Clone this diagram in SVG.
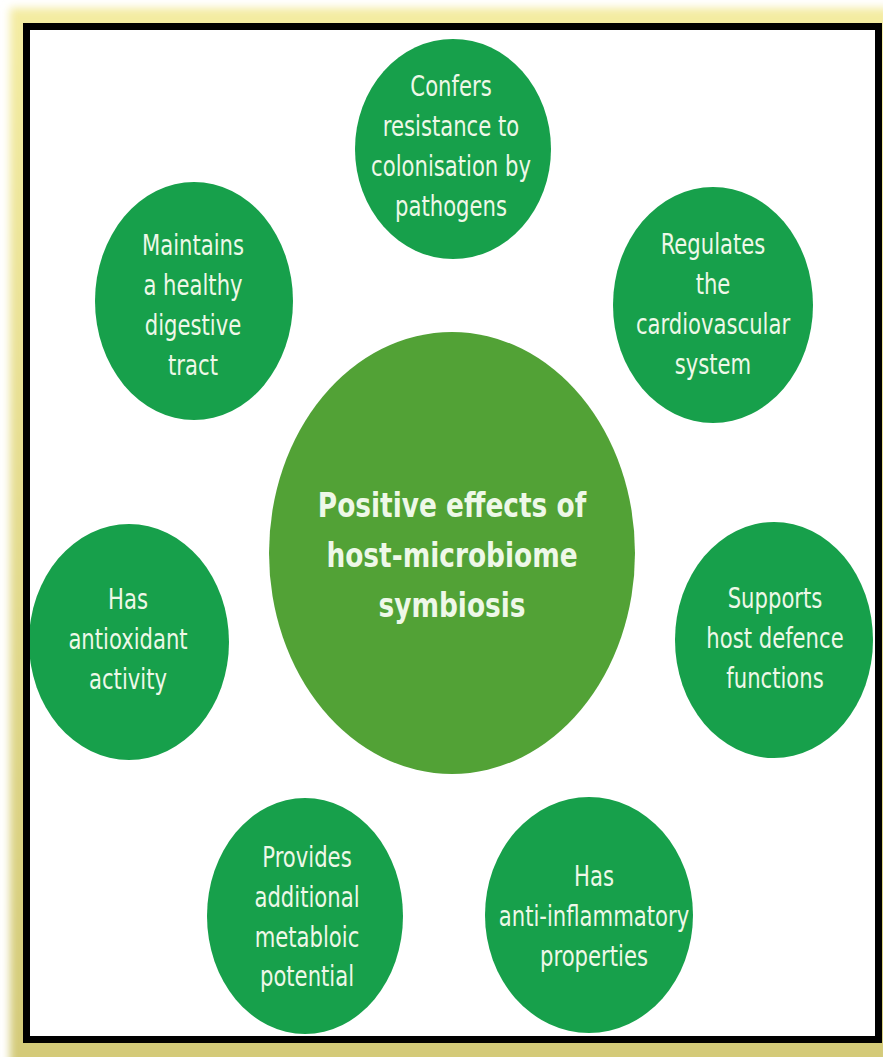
<svg xmlns="http://www.w3.org/2000/svg" width="883" height="1057" viewBox="0 0 883 1057">
<defs>
<filter id="glow" x="-5%" y="-5%" width="110%" height="110%"><feGaussianBlur stdDeviation="4"/></filter>
<linearGradient id="yel" x1="0" y1="0" x2="0" y2="1"><stop offset="0" stop-color="#f4eca2"/><stop offset="1" stop-color="#d3ca78"/></linearGradient>
<clipPath id="inner"><rect x="30" y="30" width="845" height="1006"/></clipPath>
</defs>
<style>
.o{fill:#17a04b}
.c{fill:#52a236}
text{font-family:"Liberation Sans Narrow","DejaVu Sans Condensed",sans-serif;fill:#eef8e8;text-anchor:middle}
.t{font-size:28px}
.h{font-size:33px;font-weight:bold}
</style>
<rect x="0" y="0" width="883" height="1057" fill="#ffffff"/>
<rect x="10" y="8" width="880" height="1060" fill="url(#yel)" filter="url(#glow)"/>
<rect x="26.5" y="26.5" width="852" height="1013" fill="#ffffff"/>
<g id="connectors"></g>
<g clip-path="url(#inner)">
<g id="center"><ellipse class="c" cx="452" cy="553" rx="183" ry="221"/>
<text class="h" transform="translate(452 517) scale(0.89 1)">Positive effects of</text>
<text class="h" transform="translate(452 567) scale(0.89 1)">host-microbiome</text>
<text class="h" transform="translate(452 617) scale(0.89 1)">symbiosis</text></g>
<g id="n1"><ellipse class="o" cx="453" cy="149" rx="98" ry="110"/>
<text class="t" transform="translate(451 96) scale(0.84 1)">Confers</text>
<text class="t" transform="translate(451 136) scale(0.84 1)">resistance to</text>
<text class="t" transform="translate(451 176) scale(0.84 1)">colonisation by</text>
<text class="t" transform="translate(451 216) scale(0.84 1)">pathogens</text></g>
<g id="n2"><ellipse class="o" cx="194" cy="301" rx="99" ry="119"/>
<text class="t" transform="translate(193 255) scale(0.84 1)">Maintains</text>
<text class="t" transform="translate(193 295) scale(0.84 1)">a healthy</text>
<text class="t" transform="translate(193 335) scale(0.84 1)">digestive</text>
<text class="t" transform="translate(193 375) scale(0.84 1)">tract</text></g>
<g id="n3"><ellipse class="o" cx="713" cy="305" rx="100" ry="118"/>
<text class="t" transform="translate(713 254) scale(0.84 1)">Regulates</text>
<text class="t" transform="translate(713 294) scale(0.84 1)">the</text>
<text class="t" transform="translate(713 334) scale(0.84 1)">cardiovascular</text>
<text class="t" transform="translate(713 374) scale(0.84 1)">system</text></g>
<g id="n4"><ellipse class="o" cx="129" cy="642" rx="100" ry="118"/>
<text class="t" transform="translate(128 609) scale(0.84 1)">Has</text>
<text class="t" transform="translate(128 649) scale(0.84 1)">antioxidant</text>
<text class="t" transform="translate(128 689) scale(0.84 1)">activity</text></g>
<g id="n5"><ellipse class="o" cx="774" cy="640" rx="99" ry="118"/>
<text class="t" transform="translate(775 608) scale(0.84 1)">Supports</text>
<text class="t" transform="translate(775 648) scale(0.84 1)">host defence</text>
<text class="t" transform="translate(775 688) scale(0.84 1)">functions</text></g>
<g id="n6"><ellipse class="o" cx="305" cy="916" rx="98" ry="118"/>
<text class="t" transform="translate(307 867) scale(0.84 1)">Provides</text>
<text class="t" transform="translate(307 907) scale(0.84 1)">additional</text>
<text class="t" transform="translate(307 947) scale(0.84 1)">metabloic</text>
<text class="t" transform="translate(307 986) scale(0.84 1)">potential</text></g>
<g id="n7"><ellipse class="o" cx="589" cy="915" rx="104" ry="118"/>
<text class="t" transform="translate(594 886) scale(0.84 1)">Has</text>
<text class="t" transform="translate(594 926) scale(0.84 1)">anti-inflammatory</text>
<text class="t" transform="translate(594 966) scale(0.84 1)">properties</text></g>
</g>
<rect x="26.5" y="26.5" width="852" height="1013" fill="none" stroke="#000000" stroke-width="7"/>
</svg>
